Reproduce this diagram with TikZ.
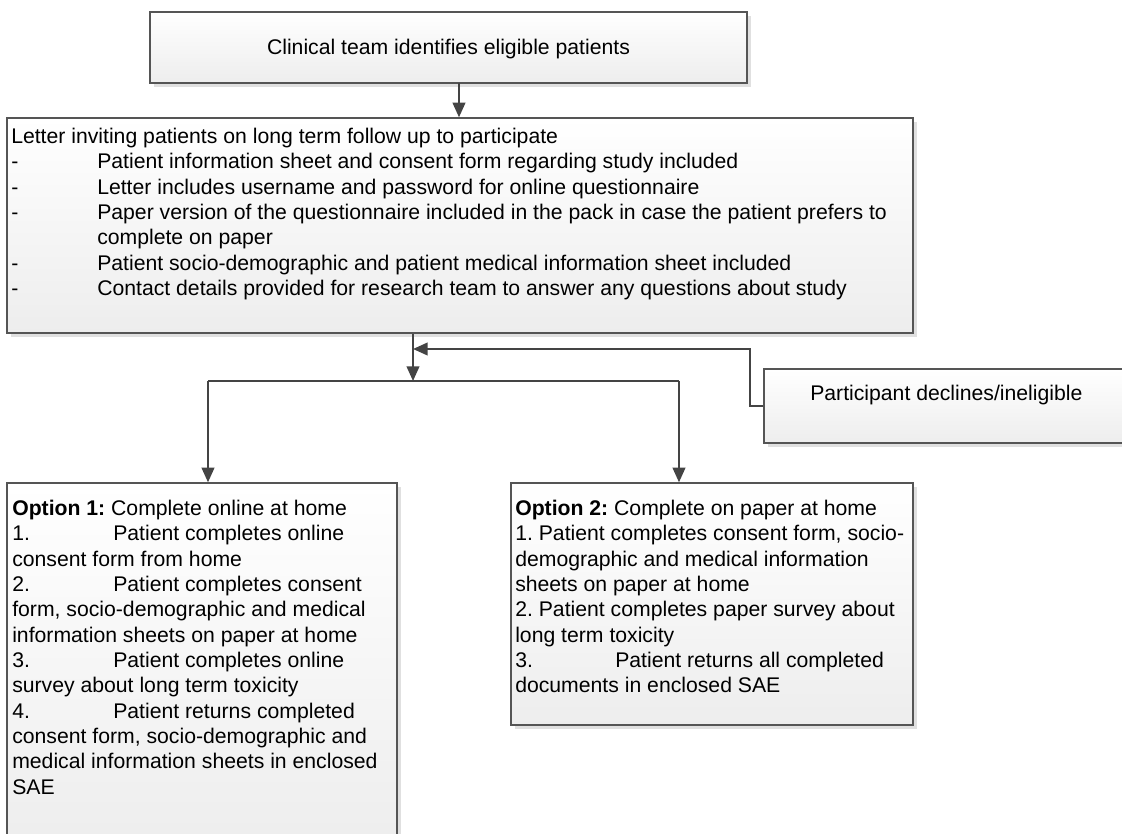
\documentclass[tikz,border=0pt]{standalone}
\usepackage{fontspec}
\setmainfont{Liberation Sans}
\usetikzlibrary{arrows.meta,shadows,fit}

\definecolor{edge}{HTML}{555555}
\definecolor{wire}{HTML}{444444}
\definecolor{shade}{HTML}{E0E0E0}

\tikzset{
  box/.style={draw=edge, line width=1pt, inner sep=0pt, top color=white, bottom color=black!7,
    drop shadow={shadow xshift=2.8pt, shadow yshift=-2.8pt, fill=shade, opacity=1}},
  txt/.style={inner sep=0pt, align=left, font=\fontsize{15.9pt}{19pt}\selectfont},
  wireline/.style={draw=wire, line width=1.5pt},
  arr/.style={wireline, -{Triangle[length=11pt,width=9.5pt]}},
}
\newcommand{\dashitem}{\makebox[64.5pt][l]{-}}
\newcommand{\numitem}[2]{\makebox[#1][l]{#2}}

\begin{document}
\frenchspacing
\begin{tikzpicture}[x=0.75pt,y=-0.75pt]
\useasboundingbox (0,0) rectangle (1122,834);
\clip (0,0) rectangle (1122,834);

% boxes
\node[box, fit={(150,12) (747,83)}] (b1) {};
\node[box, fit={(7,118) (913,333)}] (b2) {};
\node[box, fit={(764,369) (1135,443)}] (dec) {};
\node[box, fit={(7,483) (397,850)}] (o1) {};
\node[box, fit={(511,483) (913,725)}] (o2) {};

% texts
\node[txt] (t1) at ([yshift=-1.5pt]b1.center) {Clinical team identifies eligible patients};

\node[txt, anchor=north west] (t2) at (11,128) {Letter inviting patients on long term follow up to participate\\
\dashitem Patient information sheet and consent form regarding study included\\
\dashitem Letter includes username and password for online questionnaire\\
\dashitem Paper version of the questionnaire included in the pack in case the patient prefers to\\
\hspace*{64.5pt}complete on paper\\
\dashitem Patient socio-demographic and patient medical information sheet included\\
\dashitem Contact details provided for research team to answer any questions about study};

\node[txt, anchor=west] (t3) at (810,395) {Participant declines/ineligible};

\node[txt, anchor=north west] (t4) at (12,500) {\textbf{Option 1:} Complete online at home\\
\numitem{75.75pt}{1.}Patient completes online\\
consent form from home\\
\numitem{75.75pt}{2.}Patient completes consent\\
form, socio-demographic and medical\\
information sheets on paper at home\\
\numitem{75.75pt}{3.}Patient completes online\\
survey about long term toxicity\\
\numitem{75.75pt}{4.}Patient returns completed\\
consent form, socio-demographic and\\
medical information sheets in enclosed\\
SAE};

\node[txt, anchor=north west] (t5) at (515,500) {\textbf{Option 2:} Complete on paper at home\\
1. Patient completes consent form, socio-\\
demographic and medical information\\
sheets on paper at home\\
2. Patient completes paper survey about\\
long term toxicity\\
\numitem{75pt}{3.}Patient returns all completed\\
documents in enclosed SAE};

% connectors
\coordinate (a1) at (459,83);
\draw[arr] (a1) -- (a1 |- b2.north);

\coordinate (sp) at (413,381);
\coordinate (sl) at (208,381);
\coordinate (sr) at (679,381);
\draw[arr] (b2.south -| sp) -- (sp);
\draw[wireline] (sl) -- (sr);
\draw[arr] (sl) -- (sl |- o1.north);
\draw[arr] (sr) -- (sr |- o2.north);

\coordinate (fk) at (750,406);
\coordinate (fb) at (413,349);
\draw[arr] (fk -| dec.west) -- (fk) |- (fb);
\end{tikzpicture}
\end{document}
